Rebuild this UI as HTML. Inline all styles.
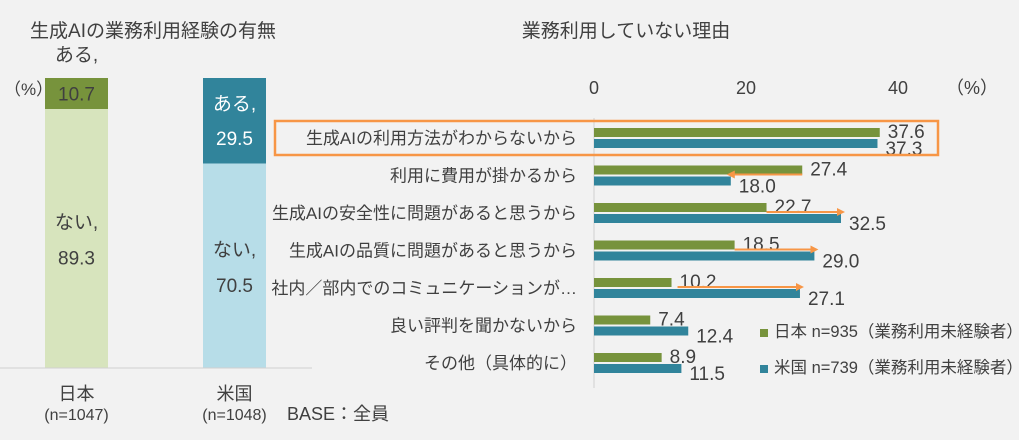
<!DOCTYPE html>
<html><head><meta charset="utf-8"><style>
body{margin:0;background:#f2f2f2;}
svg text{font-family:"Liberation Sans","Noto Sans CJK JP",sans-serif;fill:#404040;}
</style></head><body>
<svg width="1019" height="435" viewBox="0 0 1019 435">
<rect width="1019" height="435" fill="#f2f2f2"/>
<text x="153" y="37" font-size="19" text-anchor="middle">生成AIの業務利用経験の有無</text>
<text x="626" y="37" font-size="19" text-anchor="middle">業務利用していない理由</text>
<text x="4" y="95" font-size="17">（%）</text>
<g id="left"></g>
<line x1="0" y1="368" x2="312" y2="368" stroke="#d0d0d0"/>
<text x="287" y="420" font-size="18">BASE：全員</text>
<g id="right"></g>
</svg>
<script>
const NS="http://www.w3.org/2000/svg";
function mk(p,t,a,txt){const e=document.createElementNS(NS,t);for(const k in a)e.setAttribute(k,a[k]);if(txt!==undefined)e.textContent=txt;p.appendChild(e);return e;}
const countries=["日本","米国"];
const countryN=["(n=1047)","(n=1048)"];
const yesVals=[10.7,29.5];
const noVals=[89.3,70.5];
const L=document.getElementById("left");
const top0=78,h0=290;
const ly=v=>top0+v/100*h0;
const lx=[45,203],bw=63;
const darkC=["#77933c","#31849b"],lightC=["#d7e4bd","#b7dde8"];
countries.forEach((c,i)=>{
  let r=mk(L,"rect",{x:lx[i],y:top0,width:bw,height:ly(yesVals[i])-top0,fill:darkC[i]});
  
  
  r=mk(L,"rect",{x:lx[i],y:ly(yesVals[i]),width:bw,height:ly(100)-ly(yesVals[i]),fill:lightC[i]});
  
  
  const cx=lx[i]+bw/2;
  let t;
  if(i===0){
    t=mk(L,"text",{x:cx,y:61,"font-size":19,"text-anchor":"middle"},"ある,");
    
    t=mk(L,"text",{x:cx,y:(top0+ly(yesVals[i]))/2+7,"font-size":19,"text-anchor":"middle"},yesVals[i].toFixed(1));
    
  }else{
    const m=(top0+ly(yesVals[i]))/2;
    t=mk(L,"text",{x:cx,y:m-11,"font-size":19,"text-anchor":"middle",style:"fill:#fff"},"ある,");
    
    t=mk(L,"text",{x:cx,y:m+24,"font-size":19,"text-anchor":"middle",style:"fill:#fff"},yesVals[i].toFixed(1));
    
  }
  const m2=(ly(yesVals[i])+ly(100))/2;
  t=mk(L,"text",{x:cx,y:m2-10,"font-size":19,"text-anchor":"middle"},"ない,");
  
  t=mk(L,"text",{x:cx,y:m2+26,"font-size":19,"text-anchor":"middle"},noVals[i].toFixed(1));
  
  t=mk(L,"text",{x:cx,y:400,"font-size":18,"text-anchor":"middle"},c);
  
  t=mk(L,"text",{x:cx,y:420,"font-size":16,"text-anchor":"middle"},countryN[i]);
  
});
const reasons=["生成AIの利用方法がわからないから","利用に費用が掛かるから","生成AIの安全性に問題があると思うから","生成AIの品質に問題があると思うから","社内／部内でのコミュニケーションが…","良い評判を聞かないから","その他（具体的に）"];
const jpVals=[37.6,27.4,22.7,18.5,10.2,7.4,8.9];
const usVals=[37.3,18.0,32.5,29.0,27.1,12.4,11.5];
const ticks=[0,20,40];
const R=document.getElementById("right");
const x0=594,sc=7.6;
const X=v=>x0+v*sc;
const rowY=i=>138+i*37.5;
ticks.forEach(t=>{const e=mk(R,"text",{x:X(t),y:94,"font-size":18,"text-anchor":"middle"},String(t));
  });
let u=mk(R,"text",{x:946,y:94,"font-size":18},"（%）");

let ax=mk(R,"line",{x1:x0,y1:118,x2:x0,y2:388,stroke:"#d0d0d0"});

const OR="#f79646";
let defs=mk(R,"defs",{});
let mkr=mk(defs,"marker",{id:"ah",markerWidth:8,markerHeight:8,refX:6,refY:4,orient:"auto",markerUnits:"userSpaceOnUse"});
mk(mkr,"path",{d:"M0,0 L8,4 L0,8 z",fill:OR});
reasons.forEach((r,i)=>{
  const cy=rowY(i);
  let t=mk(R,"text",{x:577,y:cy+6,"font-size":17,"text-anchor":"end"},r);
  
  let b=mk(R,"rect",{x:x0,y:cy-10,width:X(jpVals[i])-x0,height:9,fill:"#77933c"});
  
  b=mk(R,"rect",{x:x0,y:cy+1,width:X(usVals[i])-x0,height:9,fill:"#31849b"});
  
  t=mk(R,"text",{x:X(jpVals[i])+8,y:cy,"font-size":19},jpVals[i].toFixed(1));
  
  t=mk(R,"text",{x:X(usVals[i])+8,y:cy+17,"font-size":19},usVals[i].toFixed(1));
  
  if(i>=1&&i<=4){
    const a=mk(R,"line",{x1:X(jpVals[i])+(i===4?6:0),y1:cy-1,x2:X(usVals[i])+(usVals[i]>jpVals[i]?2:-2),y2:cy-1,stroke:OR,"stroke-width":2,"marker-end":"url(#ah)"});
    
  }
});
let hb=mk(R,"rect",{x:275,y:121,width:663,height:34,fill:"none",stroke:OR,"stroke-width":2.5});

const legendNames=["日本 n=935（業務利用未経験者）","米国 n=739（業務利用未経験者）"];
const legendColors=["#77933c","#31849b"];
legendNames.forEach((n,i)=>{
  const y=332+i*36;
  let s=mk(R,"rect",{x:760,y:y-3,width:8,height:8,fill:legendColors[i]});
  
  let t=mk(R,"text",{x:774,y:y+5,"font-size":16.5},n);
  
});
</script>
</body></html>
